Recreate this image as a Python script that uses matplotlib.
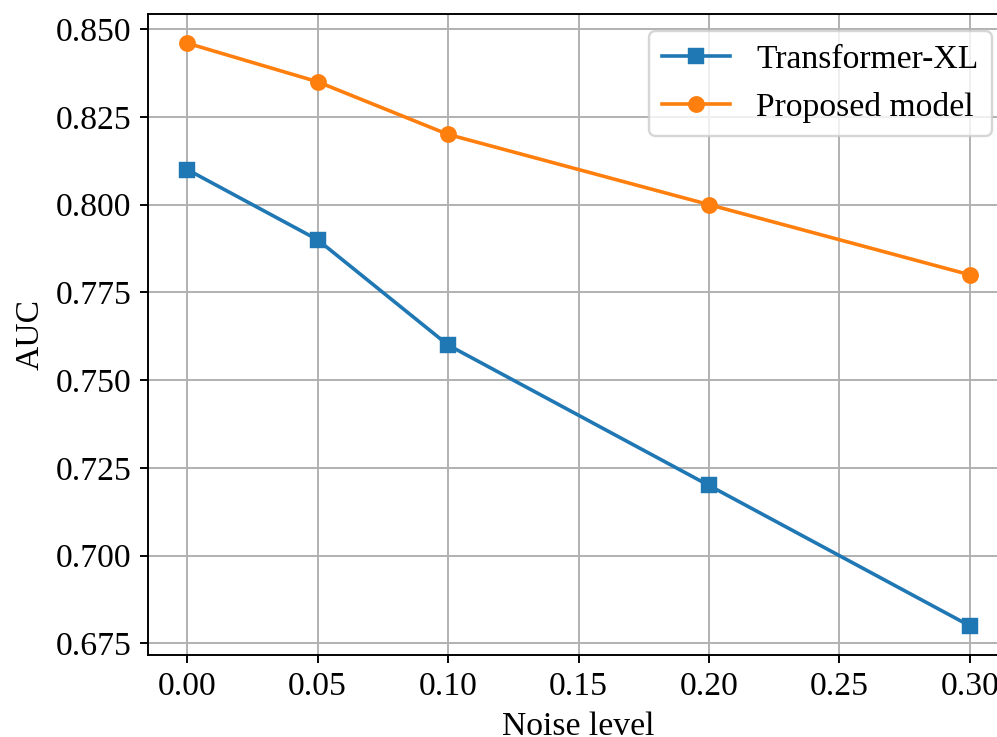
import numpy as np
import matplotlib
matplotlib.use('Agg')
import matplotlib.pyplot as plt

plt.rcParams['font.family'] = ['Liberation Serif', 'DejaVu Serif']
plt.rcParams['font.size'] = 14

noise = [0.00, 0.05, 0.10, 0.20, 0.30]
txl_auc = [0.810, 0.790, 0.760, 0.720, 0.680]
prop_auc = [0.846, 0.835, 0.820, 0.800, 0.780]

dpi = 173
fig = plt.figure(figsize=(997/dpi, 737/dpi), dpi=dpi)
# right spine sits just past the image edge, like the cropped original
ax = fig.add_axes([148/997, 1-655/737, (1009-148)/997, (655-14)/737])

ax.plot(noise, txl_auc, marker='s', color='#1f77b4', label='Transformer-XL')
ax.plot(noise, prop_auc, marker='o', color='#ff7f0e', label='Proposed model')

ax.set_xticks([0.00, 0.05, 0.10, 0.15, 0.20, 0.25, 0.30])
ax.set_xticklabels(['0.00', '0.05', '0.10', '0.15', '0.20', '0.25', '0.30'])
ax.set_yticks(np.arange(0.675, 0.851, 0.025))
ax.set_yticklabels(['%.3f' % v for v in np.arange(0.675, 0.851, 0.025)])
ax.set_xlabel('Noise level')
ax.set_ylabel('AUC')
ax.grid(True)
ax.legend(loc='upper right')

fig.savefig('out.png', dpi=dpi)
